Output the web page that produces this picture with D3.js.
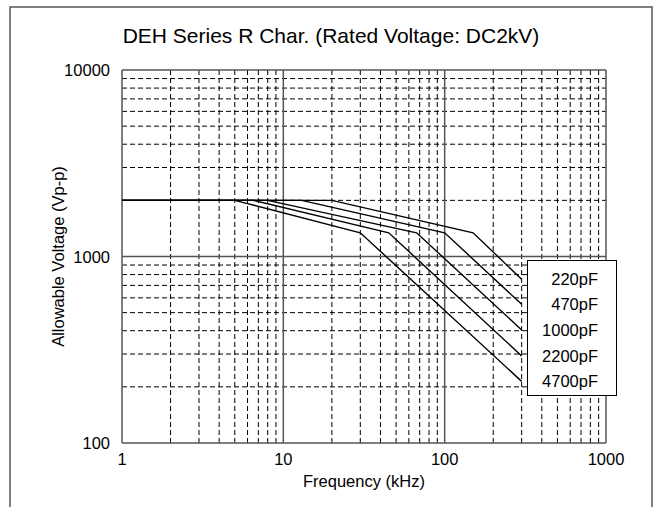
<!DOCTYPE html>
<html>
<head>
<meta charset="utf-8">
<script src="https://cdn.jsdelivr.net/npm/d3@7"></script>
<style>
  body { margin: 0; background: #fff; }
  svg { display: block; font-family: "Liberation Sans", Arial, sans-serif; }
  .minor { stroke: #000; stroke-width: 1; stroke-dasharray: 5,3; }
  .major { stroke: #555; stroke-width: 1.5; }
  .curve { fill: none; stroke: #000; stroke-width: 1.4; }
</style>
</head>
<body>
<svg id="chart" width="660" height="507"></svg>
<script>
// capacitance series
const capacitors = ["220pF", "470pF", "1000pF", "2200pF", "4700pF"];
const plateauVolt = 2000;                  // rated plateau (Vp-p)
const bendFreq = [20, 13, 8, 6.5, 5];      // kHz where the plateau ends
const kneeFreq = [150, 100, 67, 45, 30];   // kHz of the knee
const kneeVolt = [1340, 1340, 1340, 1340, 1340];
const endFreq = 300;                       // kHz, last point of every curve
const endVolt = [755, 554, 404, 293, 214];

const xTicks = [1, 10, 100, 1000];
const yTicks = [100, 1000, 10000];

const svg = d3.select("#chart");
const W = +svg.attr("width"), H = +svg.attr("height");
const m = { left: 122, right: 54, top: 70, bottom: 64 };

const x = d3.scaleLog().domain([1, 1000]).range([m.left, W - m.right]);
const y = d3.scaleLog().domain([100, 10000]).range([H - m.bottom, m.top]);

// outer frame (open at the bottom)
svg.append("path")
    .attr("d", `M10,${H} V7 H652 V${H}`)
    .attr("fill", "none")
    .attr("stroke", "#555")
    .attr("stroke-width", 1.5);

svg.append("text")
    .attr("x", 331).attr("y", 43)
    .attr("text-anchor", "middle")
    .attr("font-size", 21)
    .text("DEH Series R Char. (Rated Voltage: DC2kV)");

// minor grid 2..9 in each decade
const minorX = [], minorY = [];
[1, 10, 100].forEach(d => { for (let k = 2; k <= 9; k++) minorX.push(d * k); });
[100, 1000].forEach(d => { for (let k = 2; k <= 9; k++) minorY.push(d * k); });

const grid = svg.append("g");
grid.selectAll(".mx").data(minorX).join("line")
    .attr("class", "minor")
    .attr("x1", d => x(d)).attr("x2", d => x(d))
    .attr("y1", y(10000)).attr("y2", y(100));
grid.selectAll(".my").data(minorY).join("line")
    .attr("class", "minor")
    .attr("x1", x(1)).attr("x2", x(1000))
    .attr("y1", d => y(d)).attr("y2", d => y(d));
grid.selectAll(".Mx").data(xTicks).join("line")
    .attr("class", "major")
    .attr("x1", d => x(d)).attr("x2", d => x(d))
    .attr("y1", y(10000)).attr("y2", y(100));
grid.selectAll(".My").data(yTicks).join("line")
    .attr("class", "major")
    .attr("x1", x(1)).attr("x2", x(1000))
    .attr("y1", d => y(d)).attr("y2", d => y(d));

// tick labels
svg.append("g").selectAll("text").data(xTicks).join("text")
    .attr("x", d => x(d)).attr("y", y(100) + 22)
    .attr("text-anchor", "middle")
    .attr("font-size", 16.5)
    .text(d => d);
svg.append("g").selectAll("text").data(yTicks).join("text")
    .attr("x", x(1) - 12).attr("y", d => y(d) + 6)
    .attr("text-anchor", "end")
    .attr("font-size", 16.5)
    .text(d => d);

svg.append("text")
    .attr("x", (x(1) + x(1000)) / 2).attr("y", 487)
    .attr("text-anchor", "middle")
    .attr("font-size", 16.5)
    .text("Frequency (kHz)");
svg.append("text")
    .attr("transform", `translate(64,${(y(100) + y(10000)) / 2}) rotate(-90)`)
    .attr("text-anchor", "middle")
    .attr("font-size", 16.5)
    .text("Allowable Voltage (Vp-p)");

// curves
const series = capacitors.map((c, i) => ({
    name: c,
    pts: [[1, plateauVolt], [bendFreq[i], plateauVolt], [kneeFreq[i], kneeVolt[i]], [endFreq, endVolt[i]]]
}));
const line = d3.line().x(d => x(d[0])).y(d => y(d[1]));
svg.append("g").selectAll("path").data(series).join("path")
    .attr("class", "curve")
    .attr("d", d => line(d.pts));

// legend box
const lg = svg.append("g");
lg.append("rect")
    .attr("x", 527.5).attr("y", 260.5)
    .attr("width", 89).attr("height", 135)
    .attr("fill", "#fff").attr("stroke", "#000").attr("stroke-width", 1);
lg.selectAll("text").data(series).join("text")
    .attr("x", 598)
    .attr("y", (d, i) => y(endVolt[i]) + 6)
    .attr("text-anchor", "end")
    .attr("font-size", 16.5)
    .text(d => d.name);
</script>
</body>
</html>
